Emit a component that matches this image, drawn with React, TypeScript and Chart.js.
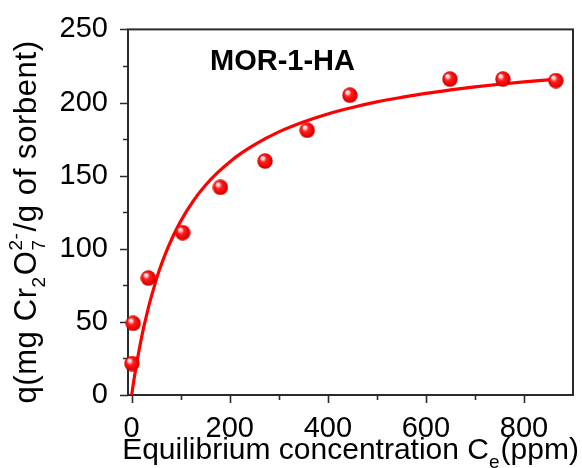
import React, { useEffect, useRef } from 'react';
import { Chart, registerables } from 'chart.js';

Chart.register(...registerables);

// Measured adsorption points (equilibrium concentration, ppm -> uptake q)
const sampleConc: number[] = [0.5, 3, 34, 104, 181, 272, 358, 445, 649, 757, 865];
const sampleQ: number[] = [21.5, 49, 80, 111, 142, 160, 181, 205, 216, 216, 215];

// Fitted curve
const fitConc: number[] = [0, 2, 5, 10, 25, 50, 75, 100, 125, 150, 175, 200, 225, 250, 300, 350, 400, 450, 500, 550, 600, 650, 700, 750, 800, 865];
const fitQ: number[] = [0, 4.6, 11.2, 21.3, 47.1, 78.9, 101.7, 118.9, 132.4, 143.2, 152.0, 159.4, 165.7, 171.1, 179.9, 186.7, 192.2, 196.6, 200.4, 203.5, 206.3, 208.6, 210.7, 212.5, 214.1, 216.0];

// Axes
const xMajorTicks: number[] = [0, 200, 400, 600, 800];
const xMinorTicks: number[] = [100, 300, 500, 700];
const yMajorTicks: number[] = [0, 50, 100, 150, 200, 250];
const yMinorTicks: number[] = [25, 75, 125, 175, 225];
const xRange: number[] = [-7.5, 900];
const yRange: number[] = [0, 250];

const sampleName = 'MOR-1-HA';

const FONT = '"Liberation Sans", Arial, Helvetica, sans-serif';
const AXIS_COLOR = '#2a2a2a';
const RED = '#ff0000';

type Seg = { t: string; kind: 'n' | 'sub' | 'sup' | 'stack'; t2?: string };

const xTitle: Seg[] = [
  { t: 'Equilibrium concentration C', kind: 'n' },
  { t: 'e', kind: 'sub' },
  { t: '(ppm)', kind: 'n' },
];
const yTitle: Seg[] = [
  { t: 'q(mg Cr', kind: 'n' },
  { t: '2', kind: 'sub' },
  { t: 'O', kind: 'n' },
  { t: '7', kind: 'stack', t2: '2-' },
  { t: '/g of sorbent)', kind: 'n' },
];

function drawRich(ctx: CanvasRenderingContext2D, segs: Seg[], size: number, cx: number, baseY: number, spacing: number) {
  const small = Math.round(size * 0.62);
  const big = `${size}px ${FONT}`;
  const sm = `${small}px ${FONT}`;
  (ctx as any).letterSpacing = `${spacing}px`;
  const widths = segs.map((s) => {
    if (s.kind === 'n') { ctx.font = big; return ctx.measureText(s.t).width; }
    ctx.font = sm;
    const w1 = ctx.measureText(s.t).width;
    const w2 = s.t2 ? ctx.measureText(s.t2).width : 0;
    return Math.max(w1, w2) + 1;
  });
  const total = widths.reduce((a, b) => a + b, 0);
  let x = cx - total / 2;
  ctx.textAlign = 'left';
  ctx.textBaseline = 'alphabetic';
  segs.forEach((s, i) => {
    if (s.kind === 'n') {
      ctx.font = big;
      ctx.fillText(s.t, x, baseY);
    } else if (s.kind === 'sub') {
      ctx.font = sm;
      ctx.fillText(s.t, x, baseY + size * 0.3);
    } else if (s.kind === 'sup') {
      ctx.font = sm;
      ctx.fillText(s.t, x, baseY - size * 0.45);
    } else {
      ctx.font = sm;
      ctx.fillText(s.t, x, baseY + size * 0.3);
      if (s.t2) ctx.fillText(s.t2, x, baseY - size * 0.45);
    }
    x += widths[i];
  });
  (ctx as any).letterSpacing = '0px';
}

const decorPlugin = {
  id: 'decor',
  beforeDatasetsDraw(chart: any) {
    const { ctx, chartArea: a, scales } = chart;
    const xs = scales.x;
    const ys = scales.y;
    ctx.save();
    ctx.strokeStyle = AXIS_COLOR;
    ctx.lineWidth = 2;
    ctx.strokeRect(a.left, a.top, a.right - a.left, a.bottom - a.top);
    ctx.lineWidth = 1.6;
    ctx.beginPath();
    const xt = (v: number, len: number) => {
      const px = Math.round(xs.getPixelForValue(v)) + 0.5;
      ctx.moveTo(px, a.bottom);
      ctx.lineTo(px, a.bottom + len);
    };
    const yt = (v: number, len: number) => {
      const py = Math.round(ys.getPixelForValue(v)) + 0.5;
      ctx.moveTo(a.left, py);
      ctx.lineTo(a.left - len, py);
    };
    xMajorTicks.forEach((v) => xt(v, 8));
    xMinorTicks.forEach((v) => xt(v, 5));
    yMajorTicks.forEach((v) => yt(v, 8));
    yMinorTicks.forEach((v) => yt(v, 5));
    ctx.stroke();
    ctx.restore();
  },
  afterDraw(chart: any) {
    const { ctx, chartArea: a } = chart;
    ctx.save();
    ctx.fillStyle = '#000';
    // x title
    drawRich(ctx, xTitle, 30, (a.left + a.right) / 2, 459, 0);
    // y title (rotated)
    ctx.save();
    ctx.translate(36, 222);
    ctx.rotate(-Math.PI / 2);
    drawRich(ctx, yTitle, 31, 0, 0, 0.6);
    ctx.restore();
    // sample label
    ctx.font = `bold 29px ${FONT}`;
    ctx.textAlign = 'left';
    ctx.textBaseline = 'alphabetic';
    ctx.fillText(sampleName, a.left + 82, 70);
    ctx.restore();
  },
};

function makeSphere(): HTMLCanvasElement {
  const R = 8;
  const c = document.createElement('canvas');
  c.width = 2 * R;
  c.height = 2 * R;
  const g2 = c.getContext('2d')!;
  const g = g2.createRadialGradient(R - 3, R - 3.5, 0.3, R, R, R);
  g.addColorStop(0, '#ffffff');
  g.addColorStop(0.18, '#ffc8c8');
  g.addColorStop(0.4, '#ff2020');
  g.addColorStop(0.8, '#ee0000');
  g.addColorStop(1, '#b80000');
  g2.fillStyle = g;
  g2.beginPath();
  g2.arc(R, R, R - 0.3, 0, Math.PI * 2);
  g2.fill();
  return c;
}

export default function App() {
  const ref = useRef<HTMLCanvasElement>(null);
  useEffect(() => {
    document.body.style.margin = '0';
    document.body.style.background = '#fff';
    const canvas = ref.current!;
    const sphere = makeSphere();
    const tickFont = { family: FONT, size: 29 };
    const chart = new Chart(canvas, {
      type: 'scatter',
      data: {
        datasets: [
          {
            label: 'experiment',
            data: sampleConc.map((c, i) => ({ x: c, y: sampleQ[i] })),
            pointStyle: sphere as any,
            pointRadius: 8,
            showLine: false,
            clip: false as any,
          },
          {
            label: 'fit',
            data: fitConc.map((c, i) => ({ x: c, y: fitQ[i] })),
            showLine: true,
            borderColor: RED,
            borderWidth: 3.2,
            pointRadius: 0,
            cubicInterpolationMode: 'monotone',
            fill: false,
          },
        ],
      },
      options: {
        animation: false,
        responsive: false,
        devicePixelRatio: 1,
        layout: { padding: { left: 0, top: 27, right: 6, bottom: 0 } },
        plugins: { legend: { display: false }, tooltip: { enabled: false } },
        scales: {
          x: {
            type: 'linear',
            min: xRange[0],
            max: xRange[1],
            grid: { display: false },
            border: { display: false },
            afterBuildTicks: (s: any) => { s.ticks = xMajorTicks.map((v) => ({ value: v })); },
            afterFit: (s: any) => { s.height = 73; },
            ticks: { font: tickFont, color: '#000', padding: 9, maxRotation: 0, autoSkip: false },
          },
          y: {
            type: 'linear',
            min: yRange[0],
            max: yRange[1],
            grid: { display: false },
            border: { display: false },
            afterBuildTicks: (s: any) => { s.ticks = yMajorTicks.map((v) => ({ value: v })); },
            afterFit: (s: any) => { s.width = 128; },
            ticks: { font: tickFont, color: '#000', padding: 12, autoSkip: false },
          },
        },
      },
      plugins: [decorPlugin],
    } as any);
    return () => chart.destroy();
  }, []);
  return (
    <div style={{ width: 582, height: 468, background: '#fff' }}>
      <canvas ref={ref} width={582} height={468} style={{ display: 'block' }} />
    </div>
  );
}
